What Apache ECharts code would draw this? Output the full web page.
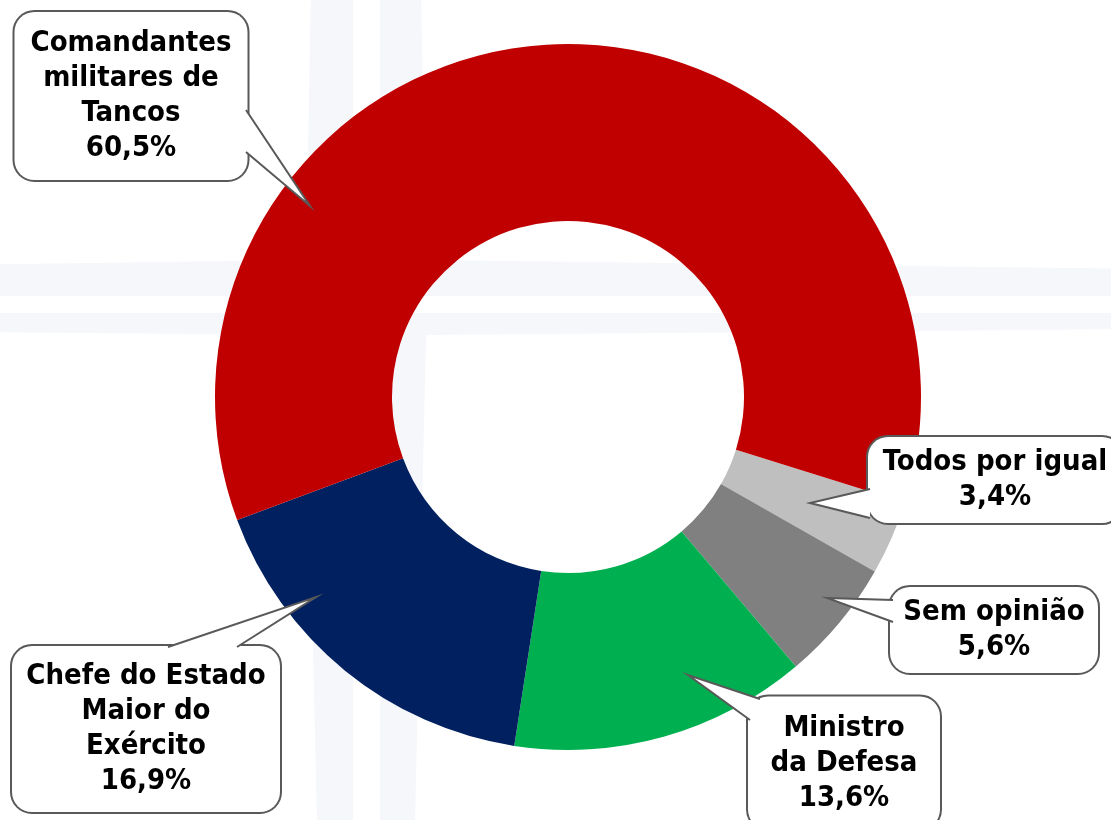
<!DOCTYPE html>
<html>
<head>
<meta charset="utf-8">
<script src="https://cdn.jsdelivr.net/npm/echarts@6/dist/echarts.min.js"></script>
<style>
  html, body { margin: 0; padding: 0; background: #fff; }
  #chart { width: 1111px; height: 820px; }
</style>
</head>
<body>
<div id="chart"></div>
<script>
// dados (ordem no sentido horário a partir do ponto das 3h)
var categorias = ['Todos por igual', 'Sem opinião', 'Ministro\nda Defesa', 'Chefe do Estado\nMaior do\nExército', 'Comandantes\nmilitares de\nTancos'];
var valores = [3.4, 5.6, 13.6, 16.9, 60.5];
var cores = ['#BFBFBF', '#808080', '#00B050', '#002060', '#C00000'];

// balões: centro, largura do texto, padding, bico (base, ponta, base)
var baloes = [
  { x: 995, y: 480, w: 234, pad: [8, 10], bico: [[870, 489], [810, 503], [870, 518]] },
  { x: 994, y: 630, w: 190, pad: [8, 9], bico: [[893, 600], [827, 598], [893, 622]] },
  { x: 844, y: 763, w: 164, pad: [14, 14], bico: [[750, 720], [688, 675], [760, 699]] },
  { x: 146, y: 729, w: 256, pad: [13, 6], bico: [[168, 647], [316, 597], [237, 647]] },
  { x: 131, y: 96, w: 205, pad: [14, 14], bico: [[246, 110], [310, 206], [246, 152]] }
];

var dados = categorias.map(function (nome, i) {
  return {
    name: nome,
    value: valores[i],
    itemStyle: { color: cores[i] },
    label: { width: baloes[i].w, padding: baloes[i].pad }
  };
});

// marca d'água (rosa dos ventos) bem clara ao fundo
var fundo = [
  { type: 'polygon', z: -10, silent: true,
    shape: { points: [[366, -3000], [426, 260], [4000, 305], [426, 335], [366, 3000], [306, 335], [-3000, 305], [306, 260]] },
    style: { fill: '#F5F7FB' } },
  { type: 'rect', z: -9, silent: true, shape: { x: 353, y: 0, width: 27, height: 820 }, style: { fill: '#fff' } },
  { type: 'rect', z: -9, silent: true, shape: { x: 0, y: 296, width: 1111, height: 17 }, style: { fill: '#fff' } }
];

var bicos = baloes.map(function (b) {
  return {
    type: 'polyline', z: 100, silent: true,
    shape: { points: b.bico },
    style: { fill: '#ffffff', stroke: '#595959', lineWidth: 2 }
  };
});

var chart = echarts.init(document.getElementById('chart'));
chart.setOption({
  backgroundColor: '#ffffff',
  animation: false,
  graphic: fundo.concat(bicos),
  series: [{
    type: 'pie',
    center: [568, 397],
    radius: [176, 353],
    startAngle: -17.4,
    clockwise: true,
    avoidLabelOverlap: false,
    data: dados,
    itemStyle: { borderWidth: 0 },
    label: {
      show: true,
      position: 'outside',
      formatter: function (p) {
        return p.name + '\n' + p.value.toFixed(1).replace('.', ',') + '%';
      },
      fontFamily: 'DejaVu Sans Condensed',
      fontWeight: 'bold',
      fontSize: 29,
      lineHeight: 35,
      color: '#000',
      align: 'center',
      overflow: 'none',
      backgroundColor: '#ffffff',
      borderColor: '#595959',
      borderWidth: 2,
      borderRadius: 20
    },
    labelLine: { show: false },
    labelLayout: function (p) {
      var b = baloes[p.dataIndex];
      return { x: b.x, y: b.y, align: 'center', verticalAlign: 'middle' };
    }
  }]
});
</script>
</body>
</html>
